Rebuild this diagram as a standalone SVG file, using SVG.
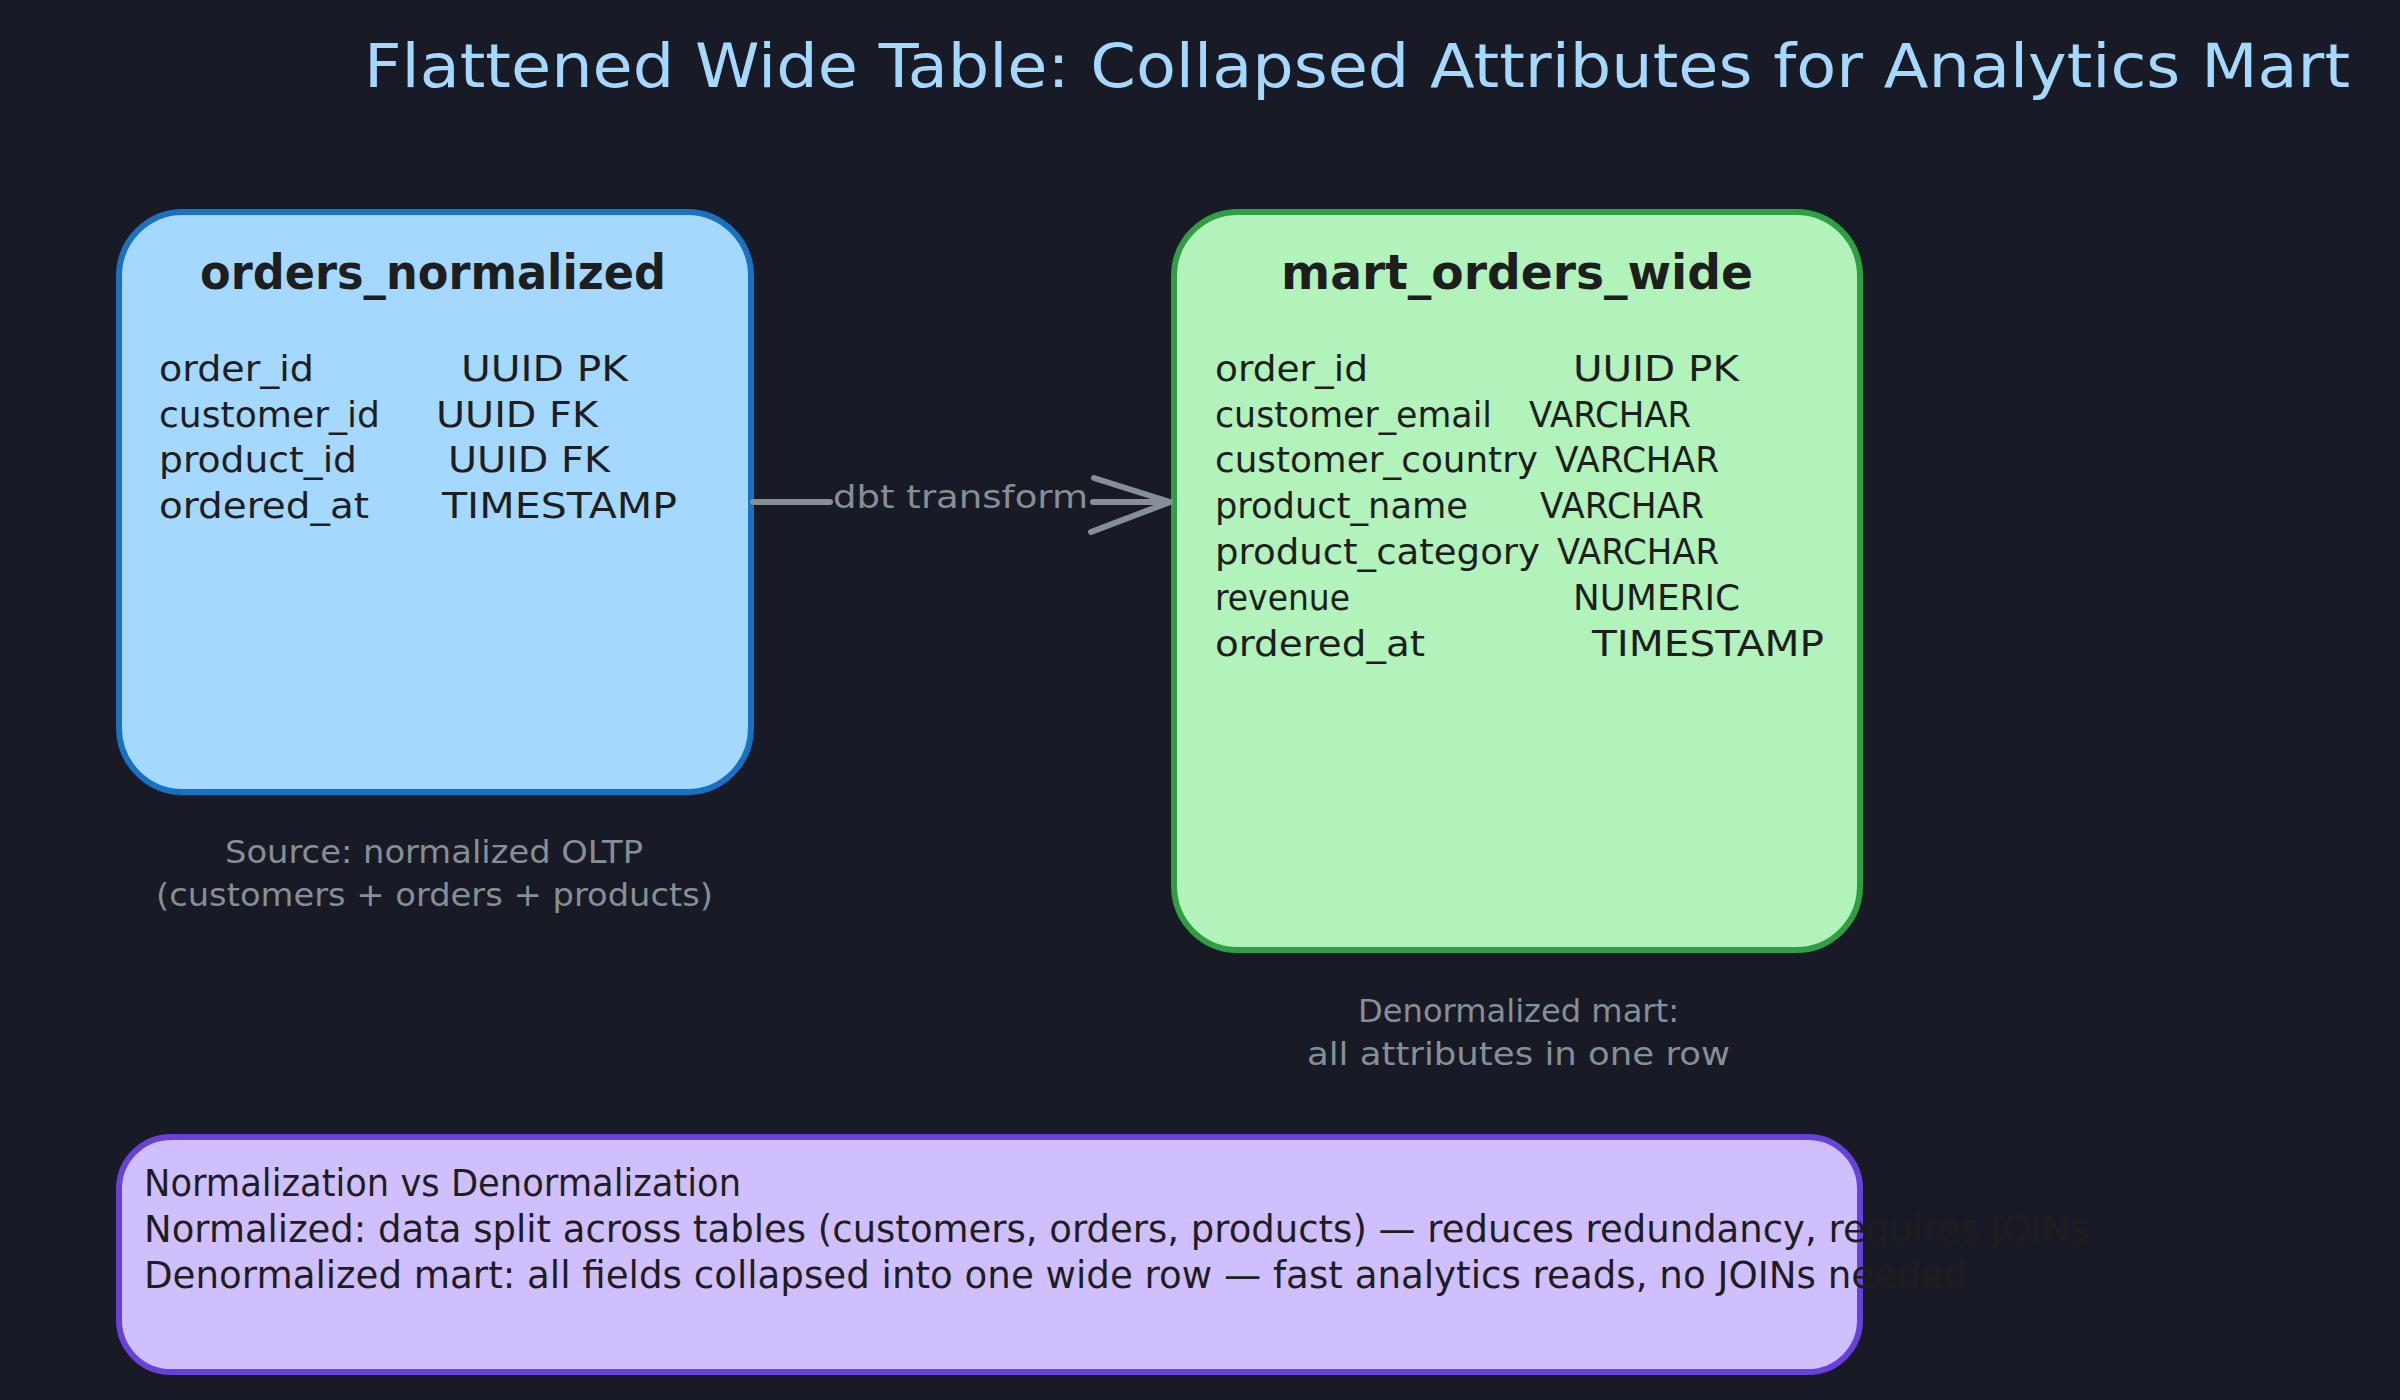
<svg xmlns="http://www.w3.org/2000/svg" width="2400" height="1400" viewBox="0 0 2400 1400">
<defs>
<style>
.bg{fill:#181a25}
.title{font-family:"DejaVu Sans",sans-serif;font-size:60px;fill:#a5d8ff}
.ntitle{font-family:"DejaVu Sans",sans-serif;font-size:48px;font-weight:bold;fill:#1e1e1e}
.field{font-family:"DejaVu Sans",sans-serif;font-size:35px;fill:#1e1e1e}
.cap{font-family:"DejaVu Sans",sans-serif;font-size:32px;fill:#868e96}
.note{font-family:"DejaVu Sans",sans-serif;font-size:37px;fill:#1e1e1e}
.lbl{font-family:"DejaVu Sans",sans-serif;font-size:32px;fill:#868e96}
.edge{stroke:#868e96;stroke-width:6;fill:none;stroke-linecap:round;stroke-linejoin:round}
</style>
</defs>
<rect class="bg" x="0" y="0" width="2400" height="1400"/>
<text class="title" x="364" y="87" textLength="1986" lengthAdjust="spacingAndGlyphs">Flattened Wide Table: Collapsed Attributes for Analytics Mart</text>

<g id="orders_normalized">
<rect x="119" y="212" width="632" height="580" rx="64" fill="#a5d8ff" stroke="#1971c2" stroke-width="6"/>
<text class="ntitle" x="200" y="289" textLength="466" lengthAdjust="spacingAndGlyphs">orders_normalized</text>
<text class="field" x="159" y="381" textLength="155" lengthAdjust="spacingAndGlyphs">order_id</text>
<text class="field" x="461" y="381" textLength="167" lengthAdjust="spacingAndGlyphs">UUID PK</text>
<text class="field" x="159" y="427" textLength="221" lengthAdjust="spacingAndGlyphs">customer_id</text>
<text class="field" x="436" y="427" textLength="162" lengthAdjust="spacingAndGlyphs">UUID FK</text>
<text class="field" x="159" y="472" textLength="198" lengthAdjust="spacingAndGlyphs">product_id</text>
<text class="field" x="448" y="472" textLength="162" lengthAdjust="spacingAndGlyphs">UUID FK</text>
<text class="field" x="159" y="518" textLength="210" lengthAdjust="spacingAndGlyphs">ordered_at</text>
<text class="field" x="442" y="518" textLength="235" lengthAdjust="spacingAndGlyphs">TIMESTAMP</text>
</g>

<g id="mart_orders_wide">
<rect x="1174" y="212" width="686" height="738" rx="64" fill="#b2f2bb" stroke="#2f9e44" stroke-width="6"/>
<text class="ntitle" x="1281" y="289" textLength="472" lengthAdjust="spacingAndGlyphs">mart_orders_wide</text>
<text class="field" x="1215" y="381" textLength="153" lengthAdjust="spacingAndGlyphs">order_id</text>
<text class="field" x="1573" y="381" textLength="166" lengthAdjust="spacingAndGlyphs">UUID PK</text>
<text class="field" x="1215" y="427" textLength="277" lengthAdjust="spacingAndGlyphs">customer_email</text>
<text class="field" x="1529" y="427" textLength="162" lengthAdjust="spacingAndGlyphs">VARCHAR</text>
<text class="field" x="1215" y="472" textLength="323" lengthAdjust="spacingAndGlyphs">customer_country</text>
<text class="field" x="1555" y="472" textLength="164" lengthAdjust="spacingAndGlyphs">VARCHAR</text>
<text class="field" x="1215" y="518" textLength="253" lengthAdjust="spacingAndGlyphs">product_name</text>
<text class="field" x="1540" y="518" textLength="164" lengthAdjust="spacingAndGlyphs">VARCHAR</text>
<text class="field" x="1215" y="564" textLength="325" lengthAdjust="spacingAndGlyphs">product_category</text>
<text class="field" x="1557" y="564" textLength="162" lengthAdjust="spacingAndGlyphs">VARCHAR</text>
<text class="field" x="1215" y="610" textLength="135" lengthAdjust="spacingAndGlyphs">revenue</text>
<text class="field" x="1573" y="610" textLength="167" lengthAdjust="spacingAndGlyphs">NUMERIC</text>
<text class="field" x="1215" y="656" textLength="210" lengthAdjust="spacingAndGlyphs">ordered_at</text>
<text class="field" x="1592" y="656" textLength="232" lengthAdjust="spacingAndGlyphs">TIMESTAMP</text>
</g>

<g id="caption_source">
<text class="cap" x="225" y="863" textLength="418" lengthAdjust="spacingAndGlyphs">Source: normalized OLTP</text>
<text class="cap" x="156" y="906" textLength="557" lengthAdjust="spacingAndGlyphs">(customers + orders + products)</text>
</g>

<g id="caption_mart">
<text class="cap" x="1358" y="1022" textLength="321" lengthAdjust="spacingAndGlyphs">Denormalized mart:</text>
<text class="cap" x="1307" y="1065" textLength="423" lengthAdjust="spacingAndGlyphs">all attributes in one row</text>
</g>

<g id="note">
<rect x="119" y="1137" width="1741" height="235" rx="52" fill="#d0bfff" stroke="#6741d9" stroke-width="6"/>
<text class="note" x="144" y="1196" textLength="597" lengthAdjust="spacingAndGlyphs">Normalization vs Denormalization</text>
<text class="note" x="144" y="1242" textLength="1945" lengthAdjust="spacingAndGlyphs">Normalized: data split across tables (customers, orders, products) — reduces redundancy, requires JOINs</text>
<text class="note" x="144" y="1288" textLength="1823" lengthAdjust="spacingAndGlyphs">Denormalized mart: all fields collapsed into one wide row — fast analytics reads, no JOINs needed</text>
</g>

<g id="connectors">
<path class="edge" d="M753 502 L830 502"/>
<path class="edge" d="M1093 502 L1170 502"/>
<path class="edge" d="M1094 478 L1170 502 L1091 532"/>
<text class="lbl" x="833" y="508" textLength="255" lengthAdjust="spacingAndGlyphs">dbt transform</text>
</g>
</svg>
